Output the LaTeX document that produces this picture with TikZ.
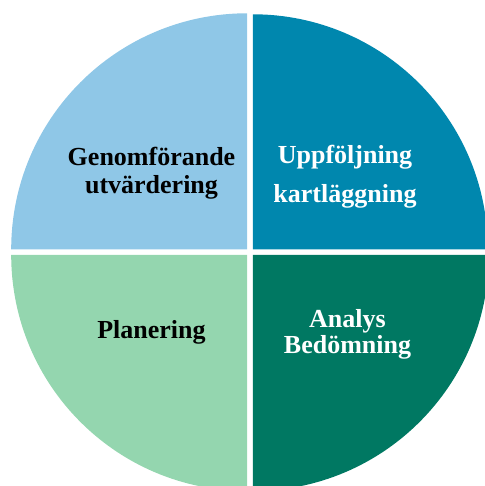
\documentclass[tikz,border=0pt]{standalone}
\usepackage{fontspec}
\setmainfont{Liberation Serif}
\definecolor{qtl}{HTML}{8FC7E7}
\definecolor{qtr}{HTML}{0087AE}
\definecolor{qbl}{HTML}{94D6AF}
\definecolor{qbr}{HTML}{007862}
\tikzset{
  quad/.style={draw=none},
  lbl/.style={font=\bfseries\fontsize{26}{28}\selectfont, align=center, inner sep=0pt},
}
\begin{document}
\begin{tikzpicture}[x=1pt,y=1pt]
\useasboundingbox (0,0) rectangle (484,486);
\fill[qtl,quad] (247.2,236.7) -- ++(-236,0) arc[start angle=180,end angle=90,radius=236] -- cycle;
\fill[qtr,quad] (252.8,236.7) -- ++(0,235) arc[start angle=90,end angle=0,radius=235] -- cycle;
\fill[qbl,quad] (247.2,231) -- ++(-236,0) arc[start angle=180,end angle=270,radius=236] -- cycle;
\fill[qbr,quad] (252.8,231) -- ++(0,-236) arc[start angle=270,end angle=360,radius=236] -- cycle;
\node[lbl, text=black] (tl) at (151.5,313) {Genomförande\\utvärdering};
\node[lbl, text=white, font=\bfseries\fontsize{26}{39}\selectfont] (tr) at (345,309.6) {Uppföljning\\kartläggning};
\node[lbl, text=black] (bl) at (151.5,154.1) {Planering};
\node[lbl, text=white, font=\bfseries\fontsize{26}{26}\selectfont] (br) at (347.5,152.1) {Analys\\Bedömning};
\end{tikzpicture}
\end{document}
